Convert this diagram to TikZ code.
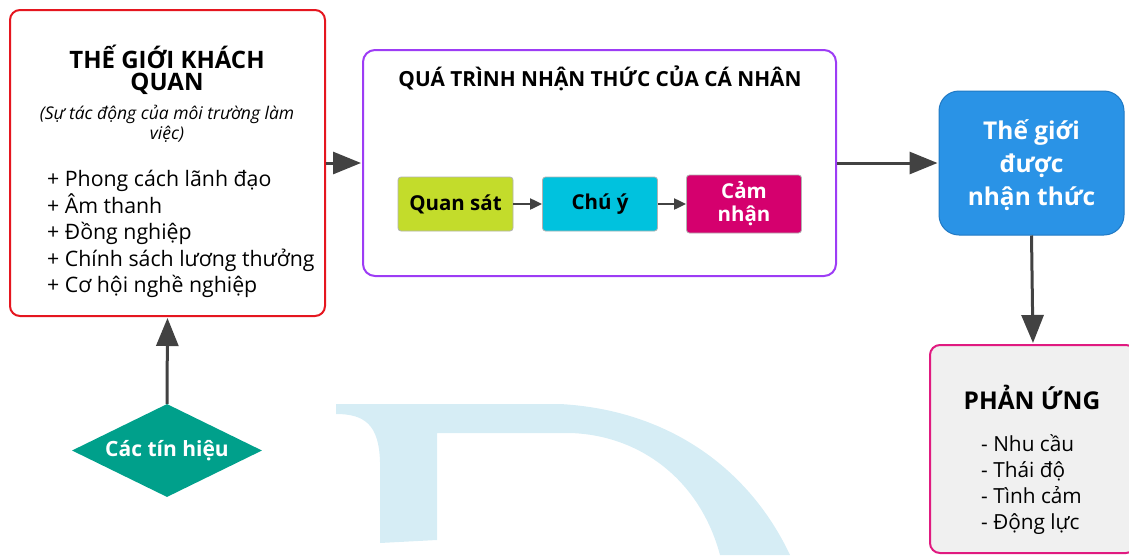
\documentclass[tikz,border=0pt]{standalone}
\usepackage{fontspec}
\setmainfont{Open Sans}
\usetikzlibrary{arrows.meta,shapes.geometric}

\definecolor{wmblue}{HTML}{D6EDF5}
\definecolor{redline}{HTML}{E5161F}
\definecolor{purpline}{HTML}{9D3CF5}
\definecolor{lime}{HTML}{C3DC2B}
\definecolor{cyanbox}{HTML}{00C2DE}
\definecolor{magbox}{HTML}{D5006E}
\definecolor{bluebox}{HTML}{2A93E6}
\definecolor{blueline}{HTML}{2079C4}
\definecolor{pinkline}{HTML}{E01A80}
\definecolor{greybox}{HTML}{F0F0F0}
\definecolor{teal}{HTML}{00A08B}
\definecolor{arrowgrey}{HTML}{424242}

\tikzset{
  panel/.style={draw, line width=2pt, rounded corners=10pt, fill=white, inner sep=0pt},
  stepbox/.style={draw=black!30, line width=0.8pt, rounded corners=3pt, inner sep=0pt,
    minimum width=115pt, align=center, font=\fontsize{20.5}{23}\selectfont\bfseries},
  bigarrow/.style={draw=arrowgrey, line width=3pt, -{Triangle[length=28pt,width=22pt]}, shorten >=1pt},
  smallarrow/.style={draw=arrowgrey, line width=2pt, -{Triangle[length=12pt,width=11pt]}},
  txt/.style={inner sep=0pt, align=center},
}

\begin{document}
\begin{tikzpicture}[x=1pt, y=-1pt]
\useasboundingbox (0,0) rectangle (1129,555);

% faint logo in the background
\fill[wmblue] (336,404) -- (560,404)
  .. controls (670,410) and (750,470) .. (790,555)
  -- (720,555)
  .. controls (700,480) and (640,435) .. (570,433)
  -- (437,433) -- (437,540) -- (380,543) -- (380,462)
  .. controls (379,425) and (365,414) .. (336,414) -- cycle;

% objective world
\node[panel, draw=redline, minimum width=315pt, minimum height=306pt] (world) at (167.5,163) {};
\node[txt, font=\fontsize{24}{22.5}\selectfont\bfseries] (worldtitle) at (167,70) {THẾ GIỚI KHÁCH\\QUAN};
\node[txt, font=\fontsize{17.5}{20}\selectfont\itshape] (worldsub) at (167,124) {(Sự tác động của môi trường làm\\việc)};
\node[txt, align=left, anchor=north west, font=\fontsize{21.3}{26.5}\selectfont] (worldlist) at (47,170)
  {+ Phong cách lãnh đạo\\+ Âm thanh\\+ Đồng nghiệp\\+ Chính sách lương thưởng\\+ Cơ hội nghề nghiệp};

% perception process
\node[panel, draw=purpline, rounded corners=12pt, minimum width=473pt, minimum height=226pt] (proc) at (599.5,163) {};
\node[txt, font=\fontsize{20.8}{22}\selectfont\bfseries] (proctitle) at (600,78) {QUÁ TRÌNH NHẬN THỨC CỦA CÁ NHÂN};
\node[stepbox, fill=lime, minimum height=54pt] (observe) at (455.5,204) {Quan sát};
\node[stepbox, fill=cyanbox, minimum height=54pt] (attend) at (600,204) {Chú ý};
\node[stepbox, fill=magbox, text=white, minimum height=58pt] (sense) at (744,204) {Cảm\\nhận};
\draw[smallarrow] (observe) -- (attend);
\draw[smallarrow] (attend) -- (sense);

% perceived world
\node[draw=blueline, line width=1pt, fill=bluebox, rounded corners=20pt, minimum width=185pt,
  minimum height=144pt, inner sep=0pt, text=white, align=center, font=\fontsize{24.5}{33}\selectfont\bfseries] (perceived)
  at (1031.5,163) {};
\node[txt, text=white, font=\fontsize{24.5}{33}\selectfont\bfseries] (perceivedtext) at (1031.5,165) {Thế giới\\được\\nhận thức};

% reaction
\node[panel, draw=pinkline, fill=greybox, minimum width=206pt, minimum height=208pt] (react) at (1033,449) {};
\node[txt, font=\fontsize{24.5}{26}\selectfont\bfseries] (reacttitle) at (1032,397) {PHẢN ỨNG};
\node[txt, align=left, anchor=north west, font=\fontsize{20.8}{26}\selectfont] (reactlist) at (981,434)
  {- Nhu cầu\\- Thái độ\\- Tình cảm\\- Động lực};

% signals
\node[diamond, aspect=2.04, fill=teal, text=white, inner sep=0pt, minimum width=190pt, minimum height=93pt,
  font=\fontsize{21}{24}\selectfont\bfseries] (signals) at (167,450.5) {Các tín hiệu};

% main flow
\draw[bigarrow] (signals.north) -- (world.south);
\draw[bigarrow] (world.east) -- (proc.west);
\draw[bigarrow] (proc.east) -- (perceived.west);
\draw[bigarrow] (perceived.south) -- (react.north);
\end{tikzpicture}
\end{document}
